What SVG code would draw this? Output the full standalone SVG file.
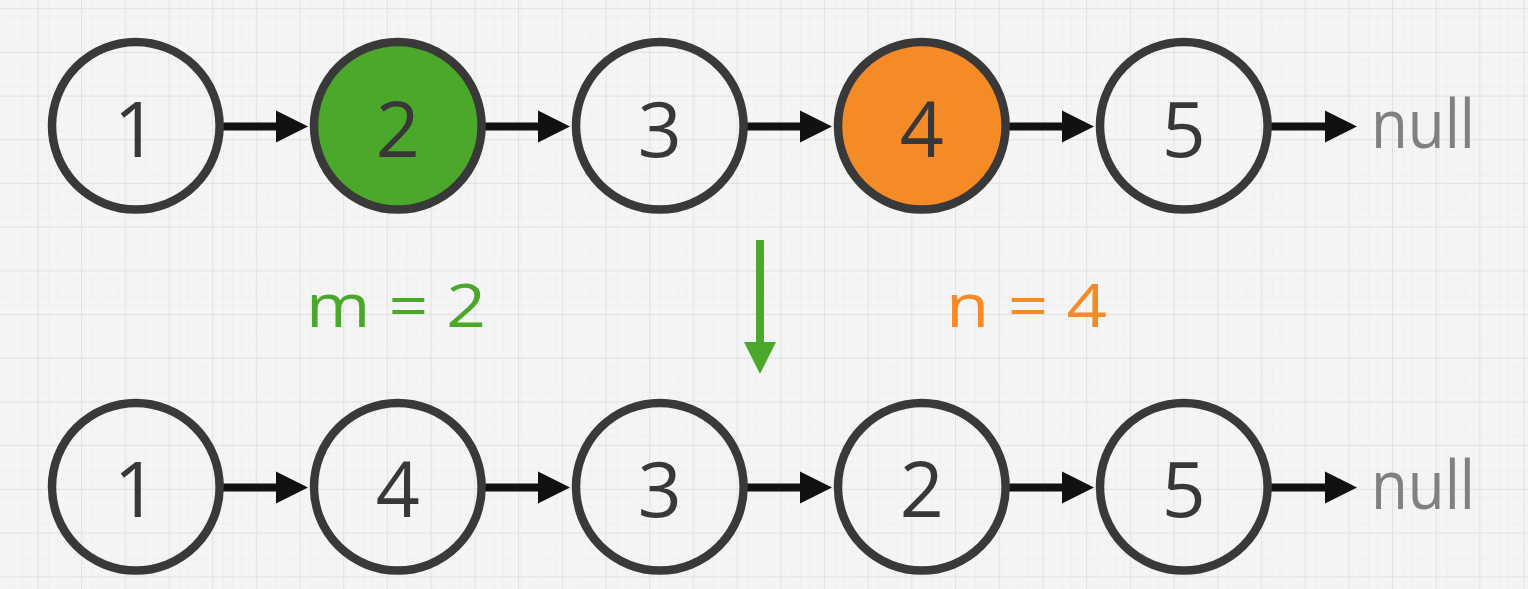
<svg xmlns="http://www.w3.org/2000/svg" width="1528" height="589" viewBox="0 0 1528 589">
<defs>
<pattern id="minor" x="37.3" y="8.2" width="8.74" height="8.74" patternUnits="userSpaceOnUse">
<path d="M0 0H8.74M0 0V8.74" fill="none" stroke="#ececec" stroke-width="1"/>
</pattern>
<pattern id="major" x="37.3" y="8.2" width="43.7" height="43.7" patternUnits="userSpaceOnUse">
<rect width="43.7" height="43.7" fill="url(#minor)"/>
<path d="M0 0H43.7M0 0V43.7" fill="none" stroke="#e2e2e2" stroke-width="2"/>
</pattern>
<path id="head" d="M-32 -16L0 0L-32 16Z"/>
</defs>
<style>
.node{stroke:#393939;stroke-width:8.5;fill:none}
.g{fill:#4ca82a}
.o{fill:#f48b26}
.lbl{font-family:"Open Sans","Noto Sans",sans-serif;font-weight:400;font-size:77px;fill:#383838;text-anchor:middle}
.null{font-family:"Open Sans","Noto Sans",sans-serif;font-weight:400;font-size:68px;fill:#808080}
.edge{stroke:#111111;stroke-width:8;fill:none}
.eh{fill:#111111}
.eq{font-family:"Open Sans","Noto Sans",sans-serif;font-weight:400;font-size:60px}
</style>
<rect width="1528" height="589" fill="#f5f5f5"/>
<rect width="1528" height="589" fill="url(#major)"/>

<g id="connectors">
<line class="edge" x1="223" y1="126.5" x2="280" y2="126.5"/><use href="#head" class="eh" x="308" y="126.5"/>
<line class="edge" x1="485" y1="126.5" x2="542" y2="126.5"/><use href="#head" class="eh" x="570" y="126.5"/>
<line class="edge" x1="747" y1="126.5" x2="804" y2="126.5"/><use href="#head" class="eh" x="832" y="126.5"/>
<line class="edge" x1="1009" y1="126.5" x2="1066" y2="126.5"/><use href="#head" class="eh" x="1094" y="126.5"/>
<line class="edge" x1="1271" y1="126.5" x2="1328" y2="126.5"/><use href="#head" class="eh" x="1357" y="126.5"/>
<line class="edge" x1="223" y1="487.5" x2="280" y2="487.5"/><use href="#head" class="eh" x="308" y="487.5"/>
<line class="edge" x1="485" y1="487.5" x2="542" y2="487.5"/><use href="#head" class="eh" x="570" y="487.5"/>
<line class="edge" x1="747" y1="487.5" x2="804" y2="487.5"/><use href="#head" class="eh" x="832" y="487.5"/>
<line class="edge" x1="1009" y1="487.5" x2="1066" y2="487.5"/><use href="#head" class="eh" x="1094" y="487.5"/>
<line class="edge" x1="1271" y1="487.5" x2="1328" y2="487.5"/><use href="#head" class="eh" x="1357" y="487.5"/>
<line x1="760" y1="240" x2="760" y2="346" stroke="#4ca82a" stroke-width="8"/>
<path d="M744 342L776 342L760 374Z" fill="#4ca82a"/>
</g>

<g id="top-1"><circle class="node" cx="135.8" cy="125.8" r="83.8"/><text class="lbl" x="135.8" y="156.5">1</text></g>
<g id="top-2"><circle class="node g" cx="397.8" cy="125.8" r="83.8"/><text class="lbl" x="397.8" y="156.5">2</text></g>
<g id="top-3"><circle class="node" cx="659.8" cy="125.8" r="83.8"/><text class="lbl" x="659.8" y="156.5">3</text></g>
<g id="top-4"><circle class="node o" cx="921.8" cy="125.8" r="83.8"/><text class="lbl" x="921.8" y="156.5">4</text></g>
<g id="top-5"><circle class="node" cx="1183.8" cy="125.8" r="83.8"/><text class="lbl" x="1183.8" y="156.5">5</text></g>
<g id="top-null"><text class="null" x="1371" y="148.3" textLength="104" lengthAdjust="spacingAndGlyphs">null</text></g>

<g id="bot-1"><circle class="node" cx="135.8" cy="486.8" r="83.8"/><text class="lbl" x="135.8" y="517.3">1</text></g>
<g id="bot-4"><circle class="node" cx="397.8" cy="486.8" r="83.8"/><text class="lbl" x="397.8" y="517.3">4</text></g>
<g id="bot-3"><circle class="node" cx="659.8" cy="486.8" r="83.8"/><text class="lbl" x="659.8" y="517.3">3</text></g>
<g id="bot-2"><circle class="node" cx="921.8" cy="486.8" r="83.8"/><text class="lbl" x="921.8" y="517.3">2</text></g>
<g id="bot-5"><circle class="node" cx="1183.8" cy="486.8" r="83.8"/><text class="lbl" x="1183.8" y="517.3">5</text></g>
<g id="bot-null"><text class="null" x="1371" y="509.3" textLength="104" lengthAdjust="spacingAndGlyphs">null</text></g>

<g id="label-m"><text class="eq g" x="306" y="326.7" textLength="180" lengthAdjust="spacingAndGlyphs">m = 2</text></g>
<g id="label-n"><text class="eq o" x="946" y="327.3" textLength="161" lengthAdjust="spacingAndGlyphs">n = 4</text></g>
</svg>
